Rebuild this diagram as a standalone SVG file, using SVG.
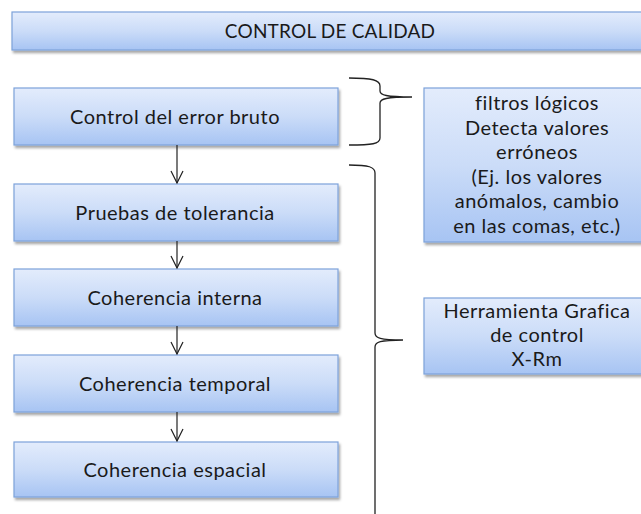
<svg xmlns="http://www.w3.org/2000/svg" width="641" height="514" viewBox="0 0 641 514">
<style>
.box{fill:url(#g);stroke:#7da2da;stroke-width:1.2;filter:url(#sh)}
.t{font-family:Lato,"Open Sans","Liberation Sans",sans-serif;font-size:20px;letter-spacing:0.5px;fill:#1a1a1a;text-anchor:middle}
.h{font-size:19px;letter-spacing:0.2px}
.br{fill:none;stroke:#222;stroke-width:1.3}
.ar{fill:none;stroke:#222;stroke-width:1.2}
</style>
<defs>
<linearGradient id="g" x1="0" y1="0" x2="0" y2="1">
<stop offset="0" stop-color="#e3ecfc"/>
<stop offset="0.5" stop-color="#cbdcf8"/>
<stop offset="1" stop-color="#a7c4f3"/>
</linearGradient>
<filter id="sh" x="-10%" y="-20%" width="130%" height="160%">
<feDropShadow dx="1.5" dy="2.5" stdDeviation="1.3" flood-color="#000" flood-opacity="0.35"/>
</filter>
<marker id="v" viewBox="-13 -7 14 14" refX="0" refY="0" markerWidth="14" markerHeight="14" markerUnits="userSpaceOnUse" orient="auto">
<path d="M-12,-6 L0,0 L-12,6" fill="none" stroke="#222" stroke-width="1.2"/>
</marker>
</defs>
<g id="n-top"><rect class="box" x="12" y="12" width="640" height="38"/><text class="t h" x="330" y="37.5">CONTROL DE CALIDAD</text></g>
<g id="n1"><rect class="box" x="14" y="88" width="324" height="57"/><text class="t" x="175" y="124">Control del error bruto</text></g>
<g id="n2"><rect class="box" x="14" y="184" width="324" height="57"/><text class="t" x="175" y="220">Pruebas de tolerancia</text></g>
<g id="n3"><rect class="box" x="14" y="269" width="324" height="57"/><text class="t" x="175" y="305">Coherencia interna</text></g>
<g id="n4"><rect class="box" x="14" y="355" width="324" height="57"/><text class="t" x="175" y="391">Coherencia temporal</text></g>
<g id="n5"><rect class="box" x="14" y="442" width="324" height="55"/><text class="t" x="175" y="477">Coherencia espacial</text></g>
<g id="n-r1"><rect class="box" x="424" y="88" width="230" height="154"/>
<text class="t" x="537" y="110">filtros lógicos</text>
<text class="t" x="537" y="134.5">Detecta valores</text>
<text class="t" x="537" y="159">erróneos</text>
<text class="t" x="537" y="183.5">(Ej. los valores</text>
<text class="t" x="537" y="208">anómalos, cambio</text>
<text class="t" x="537" y="232.5">en las comas, etc.)</text>
</g>
<g id="n-r2"><rect class="box" x="424" y="298" width="230" height="76"/>
<text class="t" x="537" y="318">Herramienta Grafica</text>
<text class="t" x="537" y="342">de control</text>
<text class="t" x="537" y="366">X-Rm</text>
</g>
<g id="connectors">
<line class="ar" x1="177" y1="145" x2="177" y2="183" marker-end="url(#v)"/>
<line class="ar" x1="177" y1="241" x2="177" y2="268" marker-end="url(#v)"/>
<line class="ar" x1="177" y1="326" x2="177" y2="354" marker-end="url(#v)"/>
<line class="ar" x1="177" y1="412" x2="177" y2="441" marker-end="url(#v)"/>
<path class="br" d="M349,78 C372,78 380,80 380,86 L380,91 C380,95 386,97 412,97 C386,97 380,99 380,103 L380,138 C380,144 372,145 349,145"/>
<path class="br" d="M349,165 C369,165 375,167 375,173 L375,333 C375,338 380,340 403,340 C380,340 375,342 375,347 L375,520"/>
</g>
</svg>
